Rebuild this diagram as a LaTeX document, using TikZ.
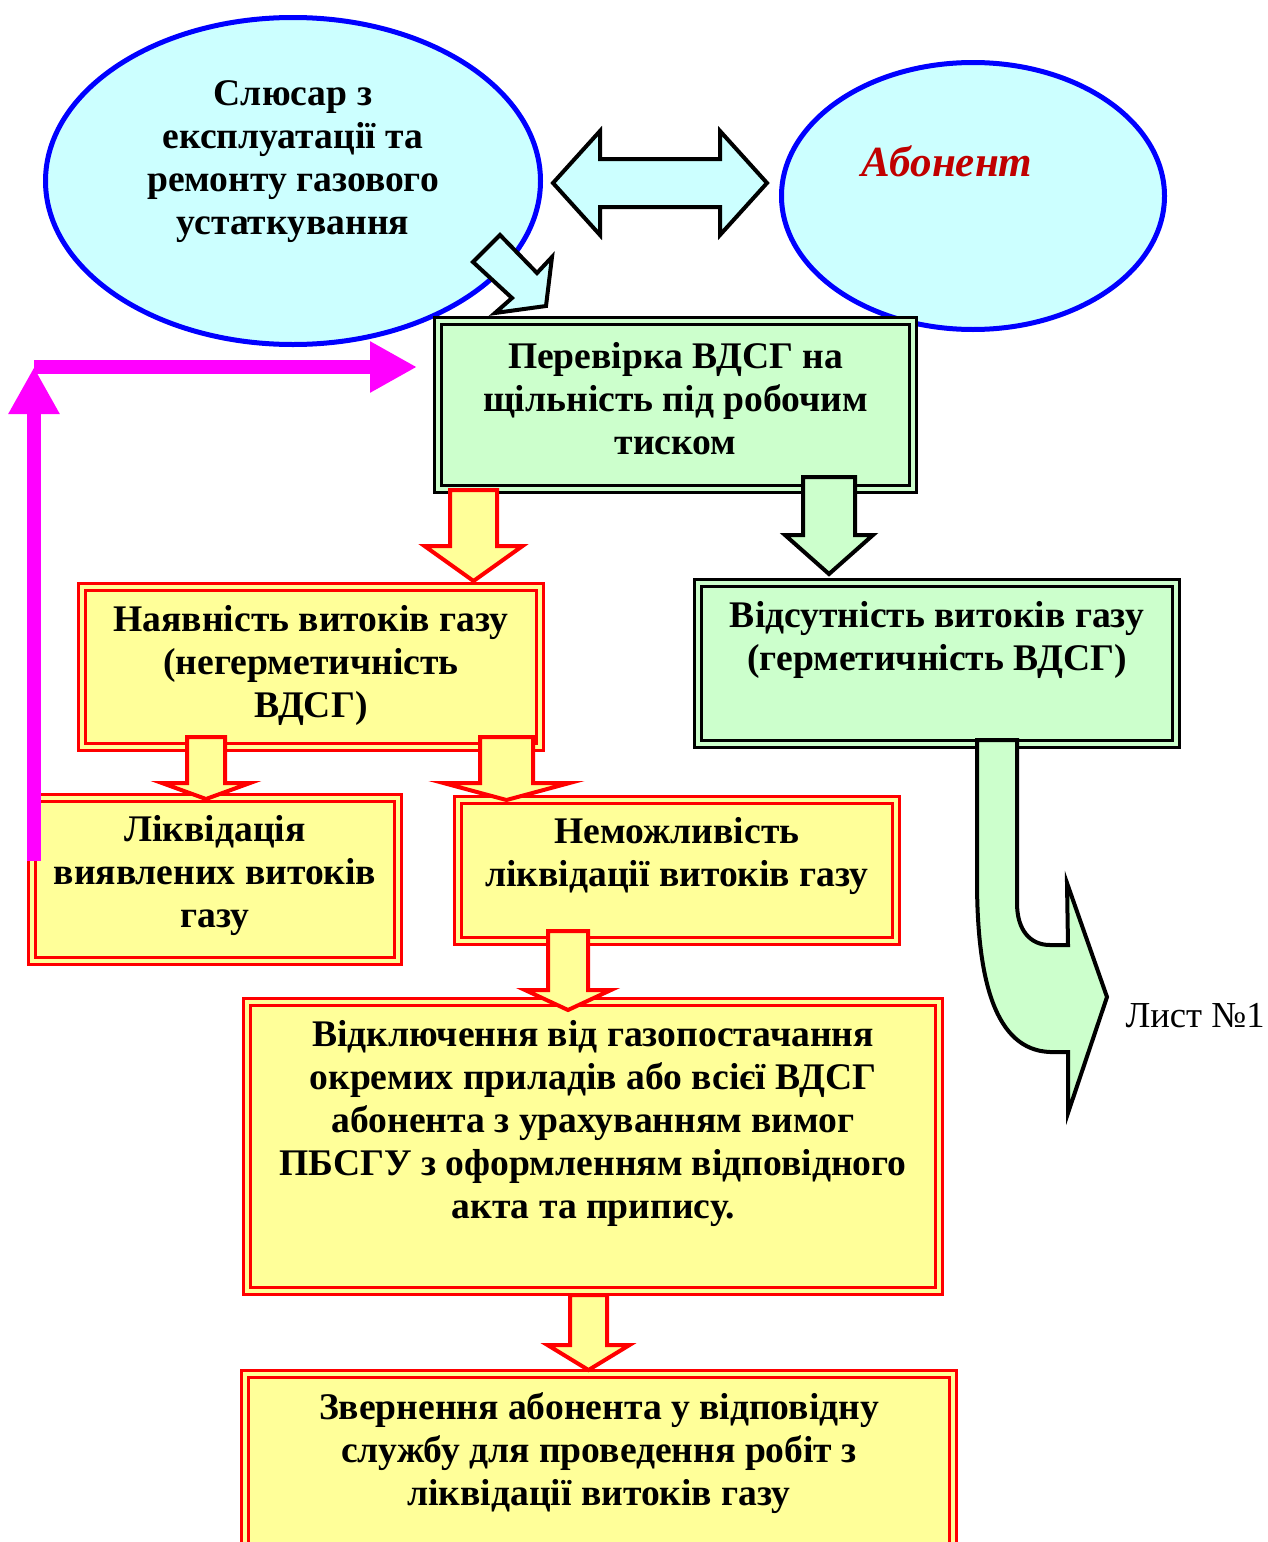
\documentclass[tikz,border=0pt]{standalone}
\usepackage{fontspec}
\setmainfont{Liberation Serif}
\usetikzlibrary{shapes.geometric,arrows.meta}

\definecolor{skyfill}{HTML}{CCFFFF}
\definecolor{mintfill}{HTML}{CCFFCC}
\definecolor{lemonfill}{HTML}{FFFF99}
\definecolor{ovalblue}{HTML}{0000FF}
\definecolor{loopmagenta}{HTML}{FF00FF}
\definecolor{clientred}{HTML}{C00000}

\tikzset{
  chartfont/.style={font=\bfseries\fontsize{18.8}{21.5}\selectfont},
  bubble/.style={ellipse, draw=ovalblue, line width=2.5pt, fill=skyfill, inner sep=0pt},
  greenframe/.style={rectangle, draw=black, line width=1.1pt, double=mintfill,
    double distance=2.4pt, fill=mintfill, inner sep=0pt},
  yellowframe/.style={rectangle, draw=red, line width=1.1pt, double=lemonfill,
    double distance=2.4pt, fill=lemonfill, inner sep=0pt},
  boxtext/.style={chartfont, align=center, inner sep=0pt},
  redblock/.style={draw=red, fill=lemonfill, line width=2pt, line join=miter},
  greenblock/.style={draw=black, fill=mintfill, line width=2pt, line join=miter},
  loopline/.style={draw=loopmagenta, line width=7pt,
    -{Triangle[width=24pt,length=23.5pt]}},
}

% style, centre x, shaft half width, top, head half width, head y, tip y
\newcommand{\downblock}[7]{%
  \draw[#1] ({#2-#3},#4) -- ({#2+#3},#4) -- ({#2+#3},#6) -- ({#2+#5},#6)
    -- (#2,#7) -- ({#2-#5},#6) -- ({#2-#3},#6) -- cycle;}

\begin{document}
\begin{tikzpicture}[x=0.5pt, y=-0.5pt]
  \useasboundingbox (0,0) rectangle (1268,1542);

  % ovals
  \node[bubble, minimum width=247.5pt, minimum height=163.5pt] (fitter) at (293,181) {};
  \node[bubble, minimum width=191.5pt, minimum height=133.5pt] (client) at (973,196) {};
  \node[boxtext] (fittertext) at (293,162)
    {Слюсар з\\експлуатації та\\ремонту газового\\устаткування};
  \node[boxtext, font=\bfseries\itshape\fontsize{21.5}{24}\selectfont, text=clientred]
    (clienttext) at (947,161) {Абонент};

  % two-way arrow between the ovals
  \draw[draw=black, fill=skyfill, line width=2pt, line join=miter]
    (553,183) -- (600,131) -- (600,159) -- (720,159) -- (720,131) -- (767,183)
    -- (720,235) -- (720,207) -- (600,207) -- (600,235) -- cycle;

  % boxes
  \node[greenframe, minimum width=237.5pt, minimum height=84pt] (check) at (675.5,405) {};
  \node[yellowframe, minimum width=229pt, minimum height=80pt] (leak) at (311,667) {};
  \node[greenframe, minimum width=239pt, minimum height=80.5pt] (tight) at (937,663.5) {};
  \node[yellowframe, minimum width=183pt, minimum height=81.5pt] (repair) at (215,879.5) {};
  \node[yellowframe, minimum width=219pt, minimum height=70.5pt] (norepair) at (677,870.5) {};
  \node[yellowframe, minimum width=346pt, minimum height=144.5pt] (cutoff) at (593,1146.5) {};
  \node[yellowframe, minimum width=354pt, minimum height=87pt] (request) at (599,1461) {};

  % small arrow from the fitter oval
  \draw[draw=black, fill=skyfill, line width=2pt, line join=miter]
    (500,235) -- (537,273) -- (552,257) -- (546,306) -- (495,313) -- (512,298)
    -- (473,262) -- cycle;

  % block arrows
  \downblock{redblock}{473.5}{23.5}{490}{49}{546}{581}
  \downblock{greenblock}{829}{26}{477}{44}{535}{574}
  \downblock{redblock}{206}{19}{737}{44}{783}{799}
  \downblock{redblock}{506.5}{26.5}{737}{63}{783}{800}
  \downblock{redblock}{568}{20}{931}{43}{990}{1010}
  \downblock{redblock}{588.5}{18.5}{1295}{41}{1345}{1370}

  % bent arrow to sheet 1
  \draw[greenblock]
    (977,740) -- (1017,740) -- (1017,903)
    .. controls (1017,930) and (1030,945) .. (1050,945)
    -- (1068,945) -- (1067,883) -- (1107,997) -- (1068,1113) -- (1068,1052)
    -- (1050,1052) .. controls (995,1050) and (977,980) .. (977,880) -- cycle;

  % texts
  \node[boxtext] (checktext) at (675.5,399)
    {Перевірка ВДСГ на\\щільність під робочим\\тиском};
  \node[boxtext] (leaktext) at (311,665)
    {Наявність витоків газу\\(негерметичність\\ВДСГ)};
  \node[boxtext] (tighttext) at (937,640)
    {Відсутність витоків газу\\(герметичність ВДСГ)};
  \node[boxtext] (repairtext) at (215,875.5)
    {Ліквідація\\виявлених витоків\\газу};
  \node[boxtext] (norepairtext) at (677,856)
    {Неможливість\\ліквідації витоків газу};
  \node[boxtext] (cutofftext) at (593,1123.5)
    {Відключення від газопостачання\\окремих приладів або всієї ВДСГ\\абонента з урахуванням вимог\\ПБСГУ з оформленням відповідного\\акта та припису.};
  \node[boxtext] (requesttext) at (599,1453.5)
    {Звернення абонента у відповідну\\службу для проведення робіт з\\ліквідації витоків газу};
  \node[anchor=east, inner sep=0pt, font=\fontsize{18.3}{21.5}\selectfont] (sheet) at (1265,1016) {Лист №1};

  % loop back to the check
  \coordinate (loopstart) at (34,861);
  \coordinate (loopcorner) at (34,367);
  \coordinate (loopend) at (417,367);
  \draw[loopline] (loopstart) -- (loopcorner);
  \draw[loopline] (loopcorner) -- (loopend);
\end{tikzpicture}
\end{document}
